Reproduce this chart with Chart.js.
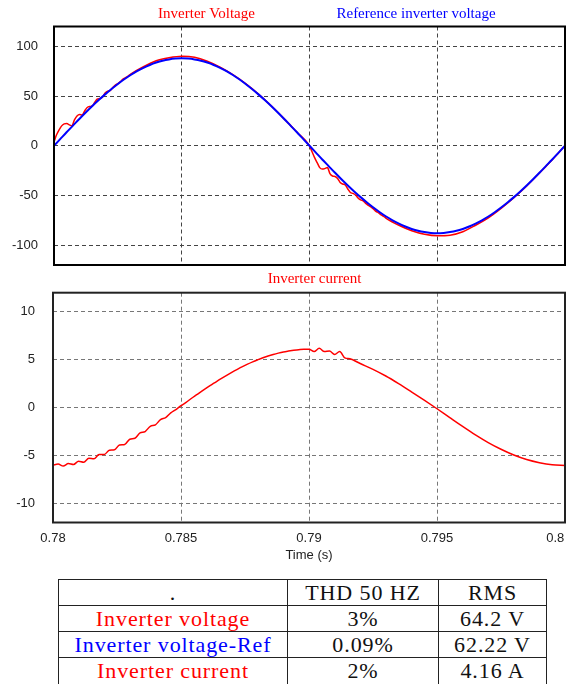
<!DOCTYPE html>
<html><head><meta charset="utf-8">
<script src="https://cdn.jsdelivr.net/npm/chart.js@4/dist/chart.umd.min.js"></script>
<style>
html,body{margin:0;padding:0;background:#fff;width:566px;height:684px;overflow:hidden;}
#c1{position:absolute;left:0;top:0;}
#c2{position:absolute;left:0;top:270px;}
table{position:absolute;left:58px;top:579px;border-collapse:collapse;table-layout:fixed;font-family:'Liberation Serif',serif;font-size:22px;letter-spacing:0.9px;color:#111;}
td{border:1px solid #222;padding:0;height:25px;line-height:25px;text-align:center;white-space:nowrap;overflow:hidden;vertical-align:top;}
tr.last td{height:34px;}
</style></head><body>
<canvas id="c1" width="566" height="270"></canvas>
<canvas id="c2" width="566" height="300"></canvas>
<table>
<colgroup><col style="width:229px"><col style="width:151px"><col style="width:108px"></colgroup>
<tr><td>.</td><td>THD 50 HZ</td><td>RMS</td></tr>
<tr><td style="color:#ff0000">Inverter voltage</td><td>3%</td><td>64.2 V</td></tr>
<tr><td style="color:#0000ff">Inverter voltage-Ref</td><td>0.09%</td><td>62.22 V</td></tr>
<tr class="last"><td style="color:#ff0000">Inverter current</td><td>2%</td><td>4.16 A</td></tr>
</table>
<script>
// ---------- data ----------
const xTicks = [0.78, 0.785, 0.79, 0.795, 0.8];
const vTicks = [-100, -50, 0, 50, 100];
const iTicks = [-10, -5, 0, 5, 10];

const tRef = [0.78,0.78025,0.7805,0.78075,0.781,0.78125,0.7815,0.78175,0.782,0.78225,0.7825,0.78275,0.783,0.78325,0.7835,0.78375,0.784,0.78425,0.7845,0.78475,0.785,0.78525,0.7855,0.78575,0.786,0.78625,0.7865,0.78675,0.787,0.78725,0.7875,0.78775,0.788,0.78825,0.7885,0.78875,0.789,0.78925,0.7895,0.78975,0.79,0.79025,0.7905,0.79075,0.791,0.79125,0.7915,0.79175,0.792,0.79225,0.7925,0.79275,0.793,0.79325,0.7935,0.79375,0.794,0.79425,0.7945,0.79475,0.795,0.79525,0.7955,0.79575,0.796,0.79625,0.7965,0.79675,0.797,0.79725,0.7975,0.79775,0.798,0.79825,0.7985,0.79875,0.799,0.79925,0.7995,0.79975,0.8];
const vRef = [0,6.9,13.8,20.5,27.2,33.7,40.0,46.0,51.7,57.1,62.2,66.9,71.2,75.0,78.4,81.3,83.7,85.6,86.9,87.7,88.0,87.7,86.9,85.6,83.7,81.3,78.4,75.0,71.2,66.9,62.2,57.1,51.7,46.0,40.0,33.7,27.2,20.5,13.8,6.9,0,-6.9,-13.8,-20.5,-27.2,-33.7,-40.0,-46.0,-51.7,-57.1,-62.2,-66.9,-71.2,-75.0,-78.4,-81.3,-83.7,-85.6,-86.9,-87.7,-88.0,-87.7,-86.9,-85.6,-83.7,-81.3,-78.4,-75.0,-71.2,-66.9,-62.2,-57.1,-51.7,-46.0,-40.0,-33.7,-27.2,-20.5,-13.8,-6.9,0];

const tInv = [0.78,0.7801,0.7802,0.7803,0.7804,0.7805,0.7806,0.7807,0.7808,0.7809,0.781,0.7811,0.7812,0.7813,0.7814,0.7815,0.7816,0.7817,0.7818,0.7819,0.782,0.7821,0.7822,0.7823,0.7824,0.7825,0.7826,0.7827,0.7828,0.7829,0.783,
  0.7835,0.784,0.7845,0.785,0.7855,0.786,0.7865,0.787,0.7875,0.788,0.7885,0.789,0.7895,
  0.79,0.7901,0.7902,0.7903,0.7904,0.7905,0.7906,0.7907,0.7908,0.7909,0.791,0.7911,0.7912,0.7913,0.7914,0.7915,0.7916,0.7917,0.7918,0.7919,0.792,0.7921,0.7922,0.7923,0.7924,0.7925,0.7926,0.7927,0.7928,0.7929,0.793,
  0.7935,0.794,0.7945,0.795,0.7955,0.796,0.7965,0.797,0.7975,0.798,0.7985,0.799,0.7995,0.8];
const vInv = [4,11,16,20,22,22.5,21,20,26,30,31.5,31,35,38.5,39.5,40,44,47,47.5,49,53,55,55.5,58.5,61,62.5,64.5,67,68.5,70,72,
  79.5,85.5,88.5,90,89,85,79,71.5,62.5,52,40.2,27.3,13.9,
  0,-6,-12,-17,-22,-23.5,-23,-22,-28,-30.5,-31,-33,-37,-38.5,-39.5,-43.5,-47,-48,-49.5,-52.5,-54.5,-55.5,-58,-60,-61.5,-63.5,-66,-67.5,-69.5,-71,-73,
  -80,-85.5,-89,-90.5,-90,-86.5,-80,-72.5,-63,-52.3,-40.5,-27.5,-14,0];

const tCur = [0.78,0.7802,0.7804,0.7806,0.7808,0.781,0.7812,0.7814,0.7816,0.7818,0.782,0.7822,0.7824,0.7826,0.7828,0.783,0.7832,0.7834,0.7836,0.7838,0.784,0.7842,0.7844,0.7846,0.7848,0.785,0.7852,0.7854,0.7856,0.7858,0.786,0.7862,0.7864,0.7866,0.7868,0.787,0.7872,0.7874,0.7876,0.7878,0.788,0.7882,0.7884,0.7886,0.7888,0.789,0.7892,0.7894,0.7896,0.7898,0.79,0.7902,0.7904,0.7906,0.7908,0.791,0.7912,0.7914,0.7916,
  0.792,0.7925,0.793,0.7935,0.794,0.7945,0.795,0.7955,0.796,0.7965,0.797,0.7975,0.798,0.7985,0.799,0.7995,0.8];
const iInv = [-6.0,-5.9,-6.1,-5.85,-5.95,-5.6,-5.7,-5.3,-5.35,-4.9,
  -4.9,-4.45,-4.4,-3.9,-3.85,-3.3,-3.2,-2.65,-2.5,-1.95,
  -1.8,-1.25,-1.05,-0.55,-0.2,0.2,0.55,0.95,1.32,1.69,
  2.05,2.4,2.75,3.08,3.4,3.71,4.0,4.28,4.54,4.78,
  5.0,5.21,5.39,5.55,5.69,5.81,5.9,5.98,6.05,6.1,
  6.1,5.85,6.2,5.85,5.9,5.55,5.85,5.2,5.1,
  4.6,4.0,3.3,2.5,1.65,0.78,-0.12,-1.05,-1.97,-2.85,-3.65,-4.35,-4.95,-5.42,-5.75,-5.97,-6.05];

// ---------- helpers ----------
const pts = (ts, vs) => ts.map((t, i) => ({x: t, y: vs[i]}));
const setTicks = arr => s => { s.ticks = arr.map(v => ({value: v})); };

const framePlugin = {
  id: 'frame',
  afterDraw(chart, args, opts) {
    const {ctx, chartArea: a} = chart;
    ctx.save();
    ctx.strokeStyle = opts.color; ctx.lineWidth = opts.width; ctx.setLineDash([]);
    ctx.strokeRect(a.left, a.top, a.right - a.left, a.bottom - a.top);
    ctx.font = '15px "Liberation Serif"';
    ctx.textAlign = 'center'; ctx.textBaseline = 'middle';
    (opts.titles || []).forEach(t => { ctx.fillStyle = t.color; ctx.fillText(t.text, t.x, t.y); });
    ctx.restore();
  }
};

const tickFont = {family: '"Liberation Sans", Arial, sans-serif', size: 13};
const lineStyle = {pointRadius: 0, cubicInterpolationMode: 'monotone'};

function yScale(min, max, ticks, width, pad, gridColor) {
  return {
    type: 'linear', min, max,
    afterBuildTicks: setTicks(ticks),
    afterFit: s => { s.width = width; s.paddingTop = 0; s.paddingBottom = 0; },
    grid: {color: gridColor, lineWidth: 1, drawTicks: false},
    border: {display: false, dash: [4, 3]},
    ticks: {font: tickFont, color: '#222', padding: pad, callback: v => String(v)}
  };
}

// ---------- top chart: voltages ----------
new Chart(document.getElementById('c1'), {
  type: 'line',
  data: {datasets: [
    Object.assign({label: 'Reference inverter voltage', data: pts(tRef, vRef), borderColor: '#0000ff', borderWidth: 2}, lineStyle),
    Object.assign({label: 'Inverter Voltage', data: pts(tInv, vInv), borderColor: '#ff0000', borderWidth: 1.5}, lineStyle)
  ]},
  options: {
    responsive: false, animation: false, devicePixelRatio: 1,
    layout: {padding: {top: 26.5, right: 1, bottom: 5, left: 0}},
    plugins: {legend: {display: false}, tooltip: {enabled: false},
      frame: {color: '#000', width: 2, titles: [
        {text: 'Inverter Voltage', color: '#ff0000', x: 206.5, y: 14},
        {text: 'Reference inverter voltage', color: '#0000ff', x: 416, y: 14}
      ]}},
    scales: {
      x: {type: 'linear', min: 0.78, max: 0.8,
        afterBuildTicks: setTicks(xTicks),
        afterFit: s => { s.height = 0; s.paddingLeft = 0; s.paddingRight = 0; },
        grid: {color: '#444', lineWidth: 1, drawTicks: false},
        border: {display: false, dash: [4, 3]},
        ticks: {display: false}},
      y: yScale(-120, 120, vTicks, 54, 16, '#444')
    }
  },
  plugins: [framePlugin]
});

// ---------- bottom chart: current ----------
new Chart(document.getElementById('c2'), {
  type: 'line',
  data: {datasets: [
    Object.assign({label: 'Inverter current', data: pts(tCur, iInv), borderColor: '#ff0000', borderWidth: 1.5}, lineStyle)
  ]},
  options: {
    responsive: false, animation: false, devicePixelRatio: 1,
    layout: {padding: {top: 22.7, right: 1, bottom: 0, left: 0}},
    plugins: {legend: {display: false}, tooltip: {enabled: false},
      frame: {color: '#222', width: 2, titles: [
        {text: 'Inverter current', color: '#ff0000', x: 314.5, y: 9}
      ]}},
    scales: {
      x: {type: 'linear', min: 0.78, max: 0.8,
        afterBuildTicks: setTicks(xTicks),
        afterFit: s => { s.height = 47.5; s.paddingLeft = 0; s.paddingRight = 0; },
        grid: {color: '#777', lineWidth: 1, drawTicks: false},
        border: {display: false, dash: [4, 3]},
        ticks: {font: tickFont, color: '#222', padding: 8, maxRotation: 0, autoSkip: false,
          callback: v => v === 0.8 ? String(v) + '\u2002\u2002\u2002' : String(v)},
        title: {display: true, text: 'Time (s)', font: tickFont, color: '#222', padding: {top: 0, bottom: 7}}},
      y: yScale(-12, 12, iTicks, 53, 18, '#777')
    }
  },
  plugins: [framePlugin]
});
</script>
</body></html>
